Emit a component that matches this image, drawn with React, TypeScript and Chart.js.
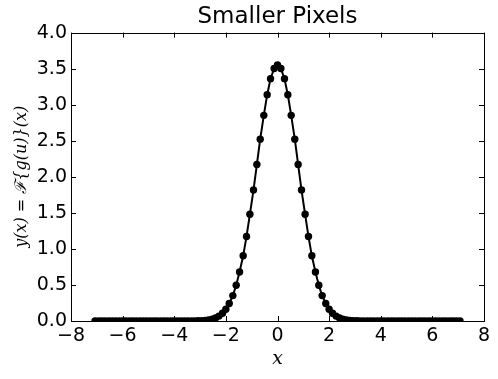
import React, { useEffect, useRef } from "react";
import { Chart, registerables } from "chart.js";

Chart.register(...registerables);

const xValues: number[] = [
  -7.07, -6.93, -6.8, -6.67, -6.53, -6.4, -6.27, -6.13, -6.0, -5.87, -5.73, -5.6, -5.47, -5.33, -5.2, -5.07,
  -4.93, -4.8, -4.67, -4.53, -4.4, -4.27, -4.13, -4.0, -3.87, -3.73, -3.6, -3.47, -3.33, -3.2, -3.07, -2.93,
  -2.8, -2.67, -2.53, -2.4, -2.27, -2.13, -2.0, -1.87, -1.73, -1.6, -1.47, -1.33, -1.2, -1.07, -0.93, -0.8,
  -0.67, -0.53, -0.4, -0.27, -0.13, 0,
  0.13, 0.27, 0.4, 0.53, 0.67, 0.8, 0.93, 1.07, 1.2, 1.33, 1.47, 1.6, 1.73, 1.87, 2.0, 2.13, 2.27, 2.4,
  2.53, 2.67, 2.8, 2.93, 3.07, 3.2, 3.33, 3.47, 3.6, 3.73, 3.87, 4.0, 4.13, 4.27, 4.4, 4.53, 4.67, 4.8,
  4.93, 5.07, 5.2, 5.33, 5.47, 5.6, 5.73, 5.87, 6.0, 6.13, 6.27, 6.4, 6.53, 6.67, 6.8, 6.93, 7.07,
];

const yValues: number[] = [
  0, 0, 0, 0, 0, 0, 0, 0, 0, 0, 0, 0, 0, 0, 0, 0, 0, 0, 0, 0, 0, 0, 0, 0, 0, 0, 0,
  0.0003, 0.0007, 0.0013, 0.0026, 0.0047, 0.0085, 0.015, 0.025, 0.042, 0.068, 0.107, 0.164, 0.243,
  0.352, 0.495, 0.679, 0.904, 1.173, 1.48, 1.816, 2.17, 2.522, 2.852, 3.139, 3.361, 3.502,
  3.55,
  3.502, 3.361, 3.139, 2.852, 2.522, 2.17, 1.816, 1.48, 1.173, 0.904, 0.679, 0.495, 0.352,
  0.243, 0.164, 0.107, 0.068, 0.042, 0.025, 0.015, 0.0085, 0.0047, 0.0026, 0.0013, 0.0007, 0.0003,
  0, 0, 0, 0, 0, 0, 0, 0, 0, 0, 0, 0, 0, 0, 0, 0, 0, 0, 0, 0, 0, 0, 0, 0, 0, 0, 0,
];

const xTicks: number[] = [-8, -6, -4, -2, 0, 2, 4, 6, 8];
const yTicks: number[] = [0, 0.5, 1, 1.5, 2, 2.5, 3, 3.5, 4];

const titleText = "Smaller Pixels";
const xTitle = "x";
const yTitle = "y(x) = \u2131{g(u)}(x)";

const fmtX = (v: number) => (v < 0 ? "\u2212" + Math.abs(v) : String(v));

const framePlugin = {
  id: "frameTicks",
  afterDatasetsDraw(chart: any) {
    const { ctx, chartArea, scales } = chart;
    const { left, right, top, bottom } = chartArea;
    ctx.save();
    ctx.strokeStyle = "#000";
    ctx.lineWidth = 1;
    ctx.beginPath();
    const tl = 5;
    xTicks.forEach((v) => {
      const px = Math.round(scales.x.getPixelForValue(v)) + 0.5;
      ctx.moveTo(px, bottom);
      ctx.lineTo(px, bottom - tl);
      ctx.moveTo(px, top);
      ctx.lineTo(px, top + tl);
    });
    yTicks.forEach((v) => {
      const py = Math.round(scales.y.getPixelForValue(v)) + 0.5;
      ctx.moveTo(left, py);
      ctx.lineTo(left + tl, py);
      ctx.moveTo(right, py);
      ctx.lineTo(right - tl, py);
    });
    ctx.stroke();
    ctx.strokeRect(Math.round(left) + 0.5, Math.round(top) + 0.5, Math.round(right - left), Math.round(bottom - top));
    ctx.restore();
  },
};

export default function App() {
  const ref = useRef<HTMLCanvasElement | null>(null);
  useEffect(() => {
    document.body.style.margin = "0";
    const canvas = ref.current;
    if (!canvas) return;
    const data = xValues.map((x, i) => ({ x, y: yValues[i] }));
    const chart = new Chart(canvas, {
      type: "line",
      data: {
        datasets: [
          {
            data,
            borderColor: "#000",
            backgroundColor: "#000",
            borderWidth: 2,
            pointRadius: 3.7,
            pointBorderWidth: 0,
            pointBackgroundColor: "#000",
            tension: 0,
            clip: 0,
          } as any,
        ],
      },
      options: {
        animation: false,
        responsive: false,
        devicePixelRatio: 1,
        layout: { padding: { left: 0, right: 14, top: 0, bottom: 0 } },
        plugins: {
          legend: { display: false },
          tooltip: { enabled: false },
          title: {
            display: true,
            fullSize: false,
            text: titleText,
            color: "#000",
            font: { family: "DejaVu Sans", size: 23, weight: "normal" },
            padding: { top: 3, bottom: 2 },
          },
        },
        scales: {
          x: {
            type: "linear",
            min: -8,
            max: 8,
            afterBuildTicks: (s: any) => {
              s.ticks = xTicks.map((v) => ({ value: v }));
            },
            afterFit: (s: any) => {
              s.height = 58;
            },
            grid: { display: false, drawTicks: false },
            border: { display: false },
            ticks: {
              color: "#000",
              font: { family: "DejaVu Sans", size: 19 },
              padding: 4,
              maxRotation: 0,
              callback: (v: any) => fmtX(Number(v)),
            },
            title: {
              display: true,
              text: xTitle,
              color: "#000",
              font: { family: "DejaVu Serif", size: 19, style: "italic" },
              padding: { top: 0, bottom: 9 },
            },
          },
          y: {
            type: "linear",
            min: 0,
            max: 4,
            afterBuildTicks: (s: any) => {
              s.ticks = yTicks.map((v) => ({ value: v }));
            },
            afterFit: (s: any) => {
              s.width = 71;
            },
            grid: { display: false, drawTicks: false },
            border: { display: false },
            ticks: {
              color: "#000",
              font: { family: "DejaVu Sans", size: 19 },
              padding: 4,
              callback: (v: any) => Number(v).toFixed(1),
            },
            title: {
              display: true,
              text: yTitle,
              color: "#000",
              font: { family: "DejaVu Serif", size: 16, style: "italic" },
              padding: { top: 12, bottom: 0 },
            },
          },
        },
      },
      plugins: [framePlugin],
    } as any);
    return () => chart.destroy();
  }, []);
  return (
    <div style={{ width: 498, height: 379, position: "relative", background: "#fff" }}>
      <canvas ref={ref} width={498} height={379} style={{ display: "block" }} />
    </div>
  );
}
